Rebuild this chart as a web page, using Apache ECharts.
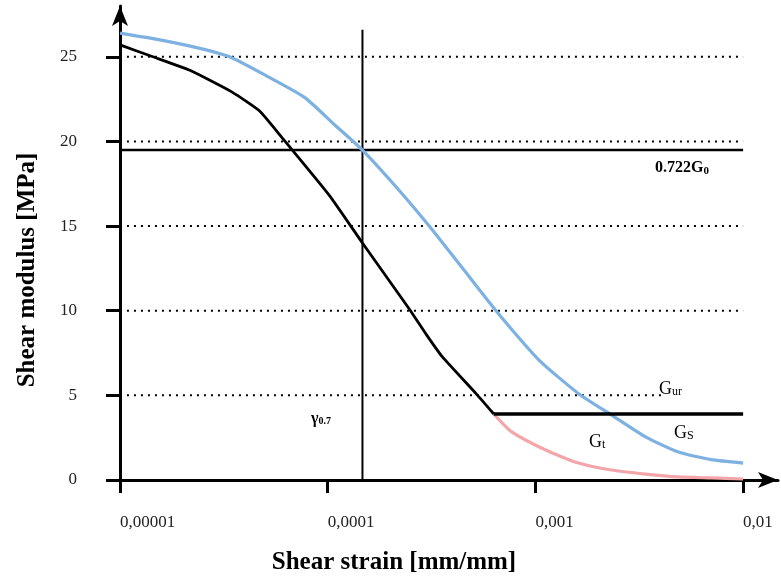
<!DOCTYPE html>
<html>
<head>
<meta charset="UTF-8">
<title>Shear modulus reduction</title>
<script src="https://cdn.jsdelivr.net/npm/echarts@6/dist/echarts.min.js"></script>
<style>
	html, body { margin: 0; padding: 0; background: #fff; }
	#main { width: 781px; height: 580px; }
</style>
</head>
<body>
<div id="main"></div>
<script>
	// Gs - secant modulus (blue)
	var gsStrain  = [1e-5, 1.556e-5, 2.42e-5, 3.37e-5, 5.02e-5, 7.73e-5, 1.076e-4, 1.466e-4, 2.21e-4, 3.08e-4, 4.53e-4, 6.46e-4, 1.038e-3, 1.614e-3, 2.32e-3, 3.39e-3, 4.88e-3, 7.02e-3, 1e-2];
	var gsModulus = [26.4, 26.0, 25.5, 25.0, 23.9, 22.6, 21.0, 19.5, 17.1, 15.0, 12.4, 10.0, 7.1, 5.1, 3.85, 2.55, 1.65, 1.2, 1.0];

	// Gt - tangent modulus (black part, above the Gur cut-off)
	var gtStrain  = [1e-5, 1.44e-5, 2.17e-5, 3.48e-5, 4.70e-5, 6.05e-5, 1.02e-4, 1.47e-4, 2.47e-4, 2.98e-4, 3.55e-4, 5.18e-4, 6.3e-4];
	var gtModulus = [25.7, 25.0, 24.2, 22.9, 21.8, 20.2, 16.8, 14.0, 10.1, 8.6, 7.3, 5.1, 3.9];

	// Gt below the cut-off (pink)
	var gtLowStrain  = [6.3e-4, 7.69e-4, 1.12e-3, 1.614e-3, 2.32e-3, 3.39e-3, 4.88e-3, 7.02e-3, 1e-2];
	var gtLowModulus = [3.9, 2.84, 1.77, 1.0, 0.59, 0.35, 0.18, 0.12, 0.06];

	// Gur level
	var gurStrain  = [6.3e-4, 1e-2];
	var gurModulus = [3.9, 3.9];

	// reference lines
	var g0722 = 19.5;          // 0.722 G0
	var gamma07 = 1.47e-4;     // gamma 0.7
	var gammaTop = 26.6;

	// dotted levels
	var dotLevels = [5, 10, 15, 20, 25];
	var dotStart = 1.08e-5;
	var dotEnds = [4.1e-3, 1e-2, 1e-2, 1e-2, 1e-2];

	// axes
	var xTicks = [1e-5, 1e-4, 1e-3, 1e-2];
	var xTickLabels = ['0,00001', '0,0001', '0,001', '0,01'];
	var yTicks = [0, 5, 10, 15, 20, 25];

	function zip(a, b) {
		var out = [];
		for (var i = 0; i < a.length; i++) out.push([a[i], b[i]]);
		return out;
	}

	var serif = 'Liberation Serif';
	var series = [];

	// dotted helper lines
	for (var i = 0; i < dotLevels.length; i++) {
		series.push({
			type: 'line', silent: true, symbol: 'none', z: 1,
			data: [[dotStart, dotLevels[i]], [dotEnds[i], dotLevels[i]]],
			lineStyle: { color: '#000', width: 2, type: [2, 5] }
		});
	}
	series.push({
		type: 'line', symbol: 'none', z: 2,
		data: [[1e-5, g0722], [1e-2, g0722]],
		lineStyle: { color: '#000', width: 2.5 }
	});
	series.push({
		type: 'line', symbol: 'none', z: 2,
		data: [[gamma07, 0], [gamma07, gammaTop]],
		lineStyle: { color: '#000', width: 2 }
	});
	series.push({
		name: 'Gs', type: 'line', symbol: 'none', z: 3, smooth: 0.2,
		data: zip(gsStrain, gsModulus),
		lineStyle: { color: '#7db1e1', width: 3.2 }
	});
	series.push({
		name: 'Gt low', type: 'line', symbol: 'none', z: 3, smooth: 0.2,
		data: zip(gtLowStrain, gtLowModulus),
		lineStyle: { color: '#f4a5a9', width: 3.2 }
	});
	series.push({
		name: 'Gt', type: 'line', symbol: 'none', z: 4, smooth: 0.15,
		data: zip(gtStrain, gtModulus),
		lineStyle: { color: '#000', width: 2.8 }
	});
	series.push({
		name: 'Gur', type: 'line', symbol: 'none', z: 4,
		data: zip(gurStrain, gurModulus),
		lineStyle: { color: '#000', width: 3.5 }
	});

	var chart = echarts.init(document.getElementById('main'));
	chart.setOption({
		animation: false,
		grid: { left: 120, right: 3, top: 6, bottom: 100 },
		xAxis: {
			type: 'log', logBase: 10,
			min: 1e-5, max: 0.01472,
			name: 'Shear strain [mm/mm]',
			nameLocation: 'middle', nameGap: 70,
			nameTextStyle: { fontFamily: serif, fontSize: 25, fontWeight: 'bold', color: '#000', padding: [0, 110, 0, 0] },
			axisLine: { lineStyle: { color: '#000', width: 3 }, symbol: ['none', 'arrow'], symbolSize: [12, 20] },
			axisTick: { length: 13, lineStyle: { color: '#000', width: 3 }, customValues: xTicks },
			axisLabel: {
				customValues: xTicks,
				margin: 34, align: 'left',
				fontFamily: serif, fontSize: 17, color: '#222',
				formatter: function (v) {
					var k = Math.round(Math.log(v) / Math.LN10) + 5;
					return xTickLabels[k] || '';
				}
			},
			splitLine: { show: false },
			minorTick: { show: false }
		},
		yAxis: {
			type: 'value', min: 0, max: 28,
			name: 'Shear modulus [MPa]',
			nameLocation: 'middle', nameGap: 80,
			nameTextStyle: { fontFamily: serif, fontSize: 25, fontWeight: 'bold', color: '#000', padding: [0, 54, 0, 0] },
			axisLine: { show: true, lineStyle: { color: '#000', width: 3 }, symbol: ['none', 'arrow'], symbolSize: [12, 20] },
			axisTick: { show: true, length: 14, lineStyle: { color: '#000', width: 3 }, customValues: yTicks },
			axisLabel: { customValues: yTicks, margin: 43, fontFamily: serif, fontSize: 17, color: '#222' },
			splitLine: { show: false }
		},
		graphic: [
			{ type: 'text', x: 655, y: 158, style: {
				text: '{a|0.722G}{b|0}', fill: '#000',
				rich: { a: { fontFamily: serif, fontSize: 16, fontWeight: 'bold' }, b: { fontFamily: serif, fontSize: 11, fontWeight: 'bold', padding: [8, 0, 0, 0] } }
			} },
			{ type: 'text', x: 311, y: 411, style: {
				text: '{a|γ}{b|0.7}', fill: '#000',
				rich: { a: { fontFamily: serif, fontSize: 16, fontWeight: 'bold' }, b: { fontFamily: serif, fontSize: 10, fontWeight: 'bold', padding: [5, 0, 0, 0] } }
			} },
			{ type: 'text', x: 659, y: 380, style: {
				text: '{a|G}{b|ur}', fill: '#000',
				rich: { a: { fontFamily: serif, fontSize: 18 }, b: { fontFamily: serif, fontSize: 12, padding: [6, 0, 0, 0] } }
			} },
			{ type: 'text', x: 674, y: 424, style: {
				text: '{a|G}{b|S}', fill: '#000',
				rich: { a: { fontFamily: serif, fontSize: 18 }, b: { fontFamily: serif, fontSize: 12, padding: [6, 0, 0, 0] } }
			} },
			{ type: 'text', x: 589, y: 433, style: {
				text: '{a|G}{b|t}', fill: '#000',
				rich: { a: { fontFamily: serif, fontSize: 18 }, b: { fontFamily: serif, fontSize: 12, padding: [6, 0, 0, 0] } }
			} }
		],
		series: series
	});
</script>
</body>
</html>
